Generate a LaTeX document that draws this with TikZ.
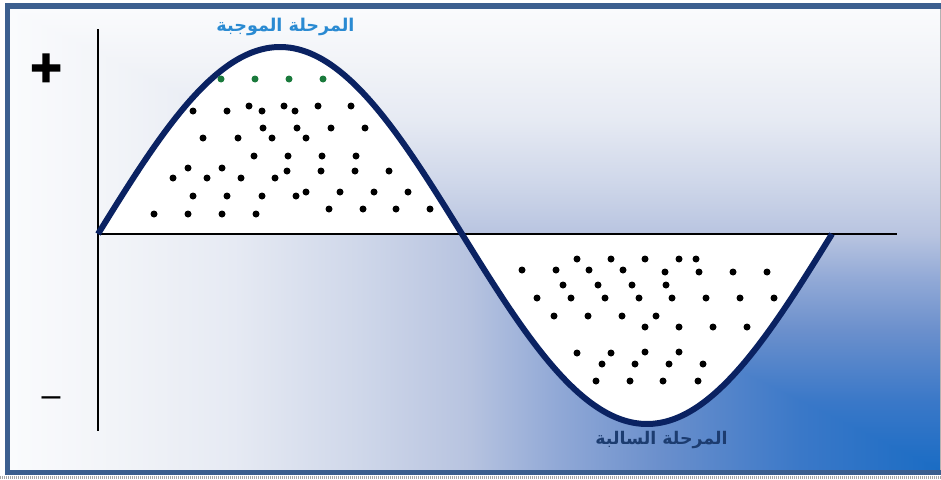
\documentclass[tikz,border=0pt]{standalone}
\usepackage{fontspec}
\setmainfont{Liberation Sans}
\newfontfamily\arabicfont[Script=Arabic]{DejaVu Sans}
\newfontfamily\plusfont[FakeBold=2.5]{Liberation Sans}
\TeXXeTstate=1
\definecolor{s0}{HTML}{1A6CC4}
\definecolor{s1}{HTML}{3A78C8}
\definecolor{s2}{HTML}{6A8FCC}
\definecolor{s3}{HTML}{90A8D6}
\definecolor{s4}{HTML}{B8C4E0}
\definecolor{s5}{HTML}{D0D8EA}
\definecolor{s6}{HTML}{E6EAF3}
\definecolor{s7}{HTML}{F2F4F8}
\definecolor{s8}{HTML}{FAFBFD}
\definecolor{framec}{HTML}{3C5F8F}
\definecolor{wave}{HTML}{0A2262}
\definecolor{toplab}{HTML}{2A8AD2}
\definecolor{botlab}{HTML}{1C3C70}
\definecolor{dotgreen}{HTML}{1A7A3C}
% horizontal: white at left, blue at right (path spans 25bp..75bp)
\pgfdeclarehorizontalshading{hgrad}{100bp}{color(0bp)=(s8); color(25bp)=(s8); color(30.5bp)=(s7); color(37bp)=(s6); color(43.5bp)=(s5); color(49.5bp)=(s4); color(54.5bp)=(s3); color(60bp)=(s2); color(67.5bp)=(s1); color(75bp)=(s0); color(100bp)=(s0)}
% vertical: blue at bottom, white at top
\pgfdeclareverticalshading{vgrad}{100bp}{color(0bp)=(s0); color(25bp)=(s0); color(32.5bp)=(s1); color(40bp)=(s2); color(45.5bp)=(s3); color(50.5bp)=(s4); color(56.5bp)=(s5); color(63bp)=(s6); color(69.5bp)=(s7); color(75bp)=(s8); color(100bp)=(s8)}
\tikzset{
  blackdot/.style={fill=black},
  greendot/.style={fill=dotgreen},
  axisline/.style={line width=2pt, black},
  waveline/.style={wave, line width=6pt, line join=round},
}
\begin{document}
\begin{tikzpicture}[x=1pt,y=-1pt]
\useasboundingbox (0,0) rectangle (941,479);
% background: rectangular gradient from the bottom-right corner
\shade[shading=hgrad] (10,9) rectangle (941,470);
\begin{scope}
\clip (10,9) -- (941,9) -- (941,470) -- cycle;
\shade[shading=vgrad] (10,9) rectangle (941,470);
\end{scope}
% white lobes
\fill[white] plot[domain=0:180,samples=90] ({98+\x/180*364},{234-187*sin(\x)}) -- cycle;
\fill[white] plot[domain=0:180,samples=90] ({462+\x/180*370},{234+190*sin(\x)}) -- cycle;
% axes
\draw[axisline] (98,29) -- (98,431);
\draw[axisline] (98,234) -- (897,234);
% wave
\draw[waveline] plot[domain=0:180,samples=90] ({98+\x/180*364},{234-187*sin(\x)})
  -- plot[domain=0:180,samples=90] ({462+\x/180*370},{234+190*sin(\x)});
% dots upper
\foreach \p in {(193,111),(227,111),(249,106),(262,111),(284,106),(295,111),(318,106),(351,106),
(263,128),(297,128),(331,128),(365,128),
(203,138),(238,138),(272,138),(306,138),
(254,156),(288,156),(322,156),(356,156),
(188,168),(222,168),(287,171),(321,171),(355,171),(389,171),
(173,178),(207,178),(241,178),(275,178),
(193,196),(227,196),(262,196),(296,196),(306,192),(340,192),(374,192),(408,192),
(154,214),(188,214),(222,214),(256,214),
(329,209),(363,209),(396,209),(430,209)}
  \fill[blackdot] \p circle (3.5pt);
% dots lower
\foreach \p in {(577,259),(611,259),(645,259),(679,259),(696,259),
(522,270),(556,270),(589,270),(623,270),
(665,272),(699,272),(733,272),(767,272),
(563,285),(598,285),(632,285),(666,285),
(537,298),(571,298),(605,298),(639,298),(672,298),(706,298),(740,298),(774,298),
(554,316),(588,316),(622,316),(656,316),
(645,327),(679,327),(713,327),(747,327),
(577,353),(611,353),(645,352),(679,352),
(602,364),(635,364),(669,364),(703,364),
(596,381),(630,381),(663,381),(698,381)}
  \fill[blackdot] \p circle (3.5pt);
% green dots
\foreach \p in {(221,79),(255,79),(289,79),(323,79)}
  \fill[greendot] \p circle (3.5pt);
% labels
\node[text=toplab, font=\arabicfont\bfseries\fontsize{17.6}{20}\selectfont, inner sep=0pt] (poslab) at (285.5,27) {\beginR المرحلة الموجبة\endR};
\node[text=botlab, font=\arabicfont\bfseries\fontsize{17.4}{20}\selectfont, inner sep=0pt] (neglab) at (661.5,440.5) {\beginR المرحلة السالبة\endR};
\node[font=\plusfont\bfseries\fontsize{54}{54}\selectfont, inner sep=0pt] (plus) at (46,70) {+};
\node[font=\fontsize{34}{34}\selectfont, inner sep=0pt] (minus) at (51,402) {–};
% frame
\draw[framec, line width=5.5pt, line join=miter] (946,6) -- (7.5,6) -- (7.5,472.5) -- (946,472.5);
\draw[gray!60, line width=1pt] (940,9) -- (940,470);
\draw[gray!70, line width=3pt, dash pattern=on 1pt off 1pt] (0,477) -- (941,477);
\end{tikzpicture}
\end{document}
